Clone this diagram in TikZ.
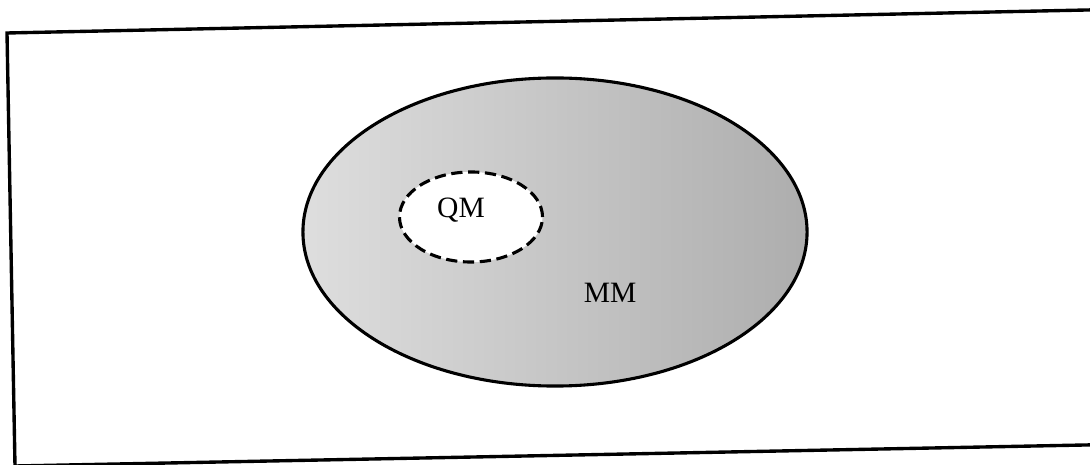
\documentclass[tikz,border=0pt]{standalone}
\usepackage{fontspec}
\setmainfont{Liberation Serif}
\usetikzlibrary{shapes.geometric,positioning}
\tikzset{
  frameline/.style={draw=black, line width=2.4pt, line join=miter},
  mmregion/.style={ellipse, draw=black, line width=2.2pt, inner sep=0pt, left color=black!13, right color=black!32},
  qmregion/.style={ellipse, draw=black, line width=2.2pt, dash pattern=on 8pt off 4pt, fill=white, inner sep=0pt},
  regiontext/.style={font=\fontsize{21}{25}\selectfont, inner sep=0pt}
}

\begin{document}
\begin{tikzpicture}[x=0.025cm, y=-0.025cm]
  \useasboundingbox (0,0) rectangle (1090,465);
  \clip (0,0) rectangle (1090,465);
  % slightly tilted outer frame
  \coordinate (f1) at (7,33);
  \coordinate (f2) at (1110,9.5);
  \coordinate (f3) at (1110,444.5);
  \coordinate (f4) at (15,466);
  \draw[frameline] (f1) -- (f2) -- (f3) -- (f4) -- cycle;
  % regions
  \node[mmregion, minimum width=12.6cm, minimum height=7.7cm] (mm) at (555,232) {};
  \node[qmregion, minimum width=3.575cm, minimum height=2.25cm] (qm) at (471,217) {};
  \node[regiontext] (qmtext) at (461,210) {QM};
  \node[regiontext] (mmtext) at (610,293) {MM};
\end{tikzpicture}
\end{document}
